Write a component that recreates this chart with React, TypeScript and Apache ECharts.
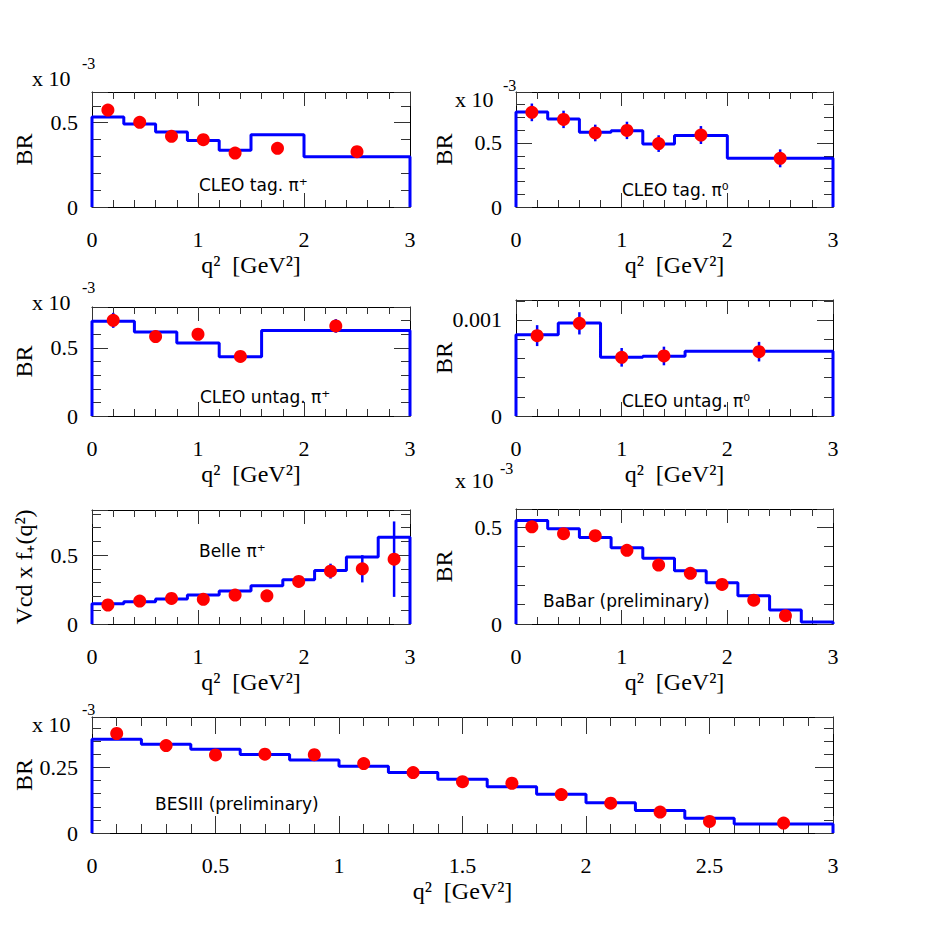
import React, { useEffect, useRef } from "react";
import * as echarts from "echarts";

// ---------- data ----------
// CLEO tagged pi+
const tagPipEdges = [0, 0.3, 0.6, 0.9, 1.2, 1.5, 2, 3];
const tagPipHist = [0.534, 0.492, 0.445, 0.395, 0.336, 0.429, 0.298];
const tagPipX = [0.15, 0.45, 0.75, 1.05, 1.35, 1.75, 2.5];
const tagPipY = [0.575, 0.502, 0.419, 0.399, 0.32, 0.348, 0.328];

// CLEO tagged pi0
const tagPi0Edges = [0, 0.3, 0.6, 0.9, 1.2, 1.5, 2, 3];
const tagPi0Hist = [0.742, 0.688, 0.583, 0.596, 0.492, 0.559, 0.38];
const tagPi0X = [0.15, 0.45, 0.75, 1.05, 1.35, 1.75, 2.5];
const tagPi0Y = [0.739, 0.684, 0.578, 0.598, 0.495, 0.562, 0.38];
const tagPi0Err = [0.069, 0.068, 0.065, 0.068, 0.065, 0.07, 0.07];

// CLEO untagged pi+
const untagPipEdges = [0, 0.4, 0.8, 1.2, 1.6, 3];
const untagPipHist = [0.695, 0.617, 0.536, 0.434, 0.627];
const untagPipX = [0.2, 0.6, 1.0, 1.4, 2.3];
const untagPipY = [0.702, 0.583, 0.6, 0.437, 0.661];
const untagPipErr = [0.055, 0.04, 0.04, 0.04, 0.05];

// CLEO untagged pi0 (absolute BR)
const untagPi0Edges = [0, 0.4, 0.8, 1.2, 1.6, 3];
const untagPi0Hist = [0.000847, 0.000969, 0.000611, 0.000622, 0.000674];
const untagPi0X = [0.2, 0.6, 1.0, 1.4, 2.3];
const untagPi0Y = [0.000837, 0.000965, 0.000611, 0.000625, 0.00067];
const untagPi0Err = [0.000109, 0.000116, 0.000097, 0.000097, 0.000102];

// Belle pi+
const belleEdges = [0, 0.3, 0.6, 0.9, 1.2, 1.5, 1.8, 2.1, 2.4, 2.7, 3];
const belleHist = [0.147, 0.162, 0.181, 0.21, 0.239, 0.278, 0.321, 0.389, 0.486, 0.63];
const belleX = [0.15, 0.45, 0.75, 1.05, 1.35, 1.65, 1.95, 2.25, 2.55, 2.85];
const belleY = [0.138, 0.167, 0.186, 0.179, 0.21, 0.205, 0.309, 0.384, 0.401, 0.471];
const belleErr = [0.02, 0.02, 0.02, 0.02, 0.02, 0.02, 0.03, 0.054, 0.099, 0.274];

// BaBar (preliminary)
const babarEdges = [0, 0.3, 0.6, 0.9, 1.2, 1.5, 1.8, 2.1, 2.4, 2.7, 3];
const babarHist = [0.536, 0.493, 0.447, 0.395, 0.34, 0.276, 0.214, 0.146, 0.072, 0.01];
const babarX = [0.15, 0.45, 0.75, 1.05, 1.35, 1.65, 1.95, 2.25, 2.55];
const babarY = [0.503, 0.467, 0.457, 0.381, 0.305, 0.262, 0.205, 0.123, 0.043];

// BESIII (preliminary)
const besEdges = [0, 0.2, 0.4, 0.6, 0.8, 1.0, 1.2, 1.4, 1.6, 1.8, 2.0, 2.2, 2.4, 2.6, 3.0];
const besHist = [0.358, 0.339, 0.32, 0.3, 0.279, 0.255, 0.231, 0.205, 0.177, 0.148, 0.116, 0.086, 0.056, 0.034];
const besX = [0.1, 0.3, 0.5, 0.7, 0.9, 1.1, 1.3, 1.5, 1.7, 1.9, 2.1, 2.3, 2.5, 2.8];
const besY = [0.38, 0.334, 0.298, 0.301, 0.299, 0.265, 0.231, 0.196, 0.19, 0.147, 0.114, 0.08, 0.044, 0.038];

// ---------- style ----------
const SERIF = "'Liberation Serif', 'Times New Roman', serif";
const SANS = "'DejaVu Sans', 'Noto Sans', sans-serif";
const BLUE = "#0000ff";
const RED = "#ff0000";
const TICK = "#333";
const X_TITLE = "q\u00B2  [GeV\u00B2]";

type Panel = {
  grid: { left: number; top: number; width: number; height: number };
  xInterval: number;
  yMax: number;
  yInterval: number;
  yTitle: string;
  yNameGap: number;
  xTick: [number, number];
  yTick: [number, number];
  edges: number[];
  hist: number[];
  px: number[];
  py: number[];
  err?: number[];
};

const panels: Panel[] = [
  { grid: { left: 92, top: 92, width: 318, height: 115 }, xInterval: 1, yMax: 0.682, yInterval: 0.5, yTitle: "BR", yNameGap: 56, xTick: [14, 7], yTick: [16, 9], edges: tagPipEdges, hist: tagPipHist, px: tagPipX, py: tagPipY },
  { grid: { left: 516, top: 92, width: 317, height: 115 }, xInterval: 1, yMax: 0.898, yInterval: 0.5, yTitle: "BR", yNameGap: 60, xTick: [14, 7], yTick: [16, 9], edges: tagPi0Edges, hist: tagPi0Hist, px: tagPi0X, py: tagPi0Y, err: tagPi0Err },
  { grid: { left: 92, top: 307, width: 318, height: 109 }, xInterval: 1, yMax: 0.8, yInterval: 0.5, yTitle: "BR", yNameGap: 56, xTick: [14, 7], yTick: [16, 9], edges: untagPipEdges, hist: untagPipHist, px: untagPipX, py: untagPipY, err: untagPipErr },
  { grid: { left: 516, top: 300, width: 317, height: 116 }, xInterval: 1, yMax: 0.001208, yInterval: 0.001, yTitle: "BR", yNameGap: 60, xTick: [14, 7], yTick: [16, 9], edges: untagPi0Edges, hist: untagPi0Hist, px: untagPi0X, py: untagPi0Y, err: untagPi0Err },
  { grid: { left: 92, top: 510, width: 318, height: 114 }, xInterval: 1, yMax: 0.828, yInterval: 0.5, yTitle: "Vcd x f\u208A(q\u00B2)", yNameGap: 56, xTick: [14, 7], yTick: [16, 9], edges: belleEdges, hist: belleHist, px: belleX, py: belleY, err: belleErr },
  { grid: { left: 516, top: 509, width: 317, height: 115 }, xInterval: 1, yMax: 0.595, yInterval: 0.5, yTitle: "BR", yNameGap: 60, xTick: [14, 7], yTick: [16, 9], edges: babarEdges, hist: babarHist, px: babarX, py: babarY },
  { grid: { left: 92, top: 717, width: 741, height: 116 }, xInterval: 0.5, yMax: 0.443, yInterval: 0.25, yTitle: "BR", yNameGap: 56, xTick: [17, 9], yTick: [18, 9], edges: besEdges, hist: besHist, px: besX, py: besY },
];

// text annotations: [text, left x, center y]
const annotations: [string, number, number][] = [
  ["CLEO tag. \u03C0\u207A", 199, 185],
  ["CLEO tag. \u03C0\u2070", 622, 190],
  ["CLEO untag. \u03C0\u207A", 200, 397],
  ["CLEO untag. \u03C0\u2070", 622, 401],
  ["Belle \u03C0\u207A", 199, 551],
  ["BaBar (preliminary)", 543, 601],
  ["BESIII (preliminary)", 155, 804],
];

// multiplier labels: "x 10" at (x1, y1), "-3" at (x2, y2)
const multipliers: [number, number, number, number][] = [
  [32, 78, 82, 63],
  [455, 99, 503, 85],
  [32, 302, 82, 287],
  [455, 480, 500, 468],
  [32, 724, 82, 709],
];

function stepLine(edges: number[], vals: number[]) {
  const d: number[][] = [[edges[0], 0]];
  vals.forEach((v, i) => {
    d.push([edges[i], v]);
    d.push([edges[i + 1], v]);
  });
  d.push([edges[edges.length - 1], 0]);
  return d;
}

function fmtY(interval: number) {
  return (v: number) => {
    const r = v / interval;
    if (Math.abs(r - Math.round(r)) > 1e-6) return "";
    return String(+v.toFixed(6));
  };
}

function buildOption() {
  const grid: any[] = [];
  const xAxis: any[] = [];
  const yAxis: any[] = [];
  const series: any[] = [];
  panels.forEach((p, gi) => {
    grid.push({ ...p.grid, containLabel: false, outerBoundsMode: "none" });
    const xBase = (main: boolean) => ({
      type: "value",
      gridIndex: gi,
      position: main ? "bottom" : "top",
      min: 0,
      max: 3,
      interval: p.xInterval,
      axisLine: { show: true, onZero: false, lineStyle: { color: "#000", width: 1 } },
      axisTick: { show: true, inside: true, length: p.xTick[0], lineStyle: { color: TICK, width: 1 } },
      minorTick: { show: true, splitNumber: 5, length: p.xTick[1], lineStyle: { color: TICK, width: 1 } },
      splitLine: { show: false },
      minorSplitLine: { show: false },
      axisLabel: main
        ? { show: true, margin: 21, fontFamily: SERIF, fontSize: 22, color: "#000" }
        : { show: false },
      name: main ? X_TITLE : "",
      nameLocation: "middle",
      nameGap: 46,
      nameMoveOverlap: false,
      nameTextStyle: { fontFamily: SERIF, fontSize: 24, color: "#000" },
    });
    const yBase = (main: boolean) => ({
      type: "value",
      gridIndex: gi,
      position: main ? "left" : "right",
      min: 0,
      max: p.yMax,
      interval: p.yInterval,
      axisLine: { show: true, onZero: false, lineStyle: { color: "#000", width: 1 } },
      axisTick: { show: true, inside: true, length: p.yTick[0], lineStyle: { color: TICK, width: 1 } },
      minorTick: { show: true, splitNumber: 5, length: p.yTick[1], lineStyle: { color: TICK, width: 1 } },
      splitLine: { show: false },
      minorSplitLine: { show: false },
      axisLabel: main
        ? { show: true, margin: 14, fontFamily: SERIF, fontSize: 22, color: "#000", formatter: fmtY(p.yInterval) }
        : { show: false },
      name: main ? p.yTitle : "",
      nameLocation: "middle",
      nameGap: p.yNameGap,
      nameMoveOverlap: false,
      nameTextStyle: { fontFamily: SERIF, fontSize: 24, color: "#000" },
    });
    const xi = xAxis.length;
    xAxis.push(xBase(true), xBase(false));
    const yi = yAxis.length;
    yAxis.push(yBase(true), yBase(false));

    series.push({
      type: "line",
      xAxisIndex: xi,
      yAxisIndex: yi,
      data: stepLine(p.edges, p.hist),
      symbol: "none",
      clip: false,
      lineStyle: { color: BLUE, width: 3, opacity: 1 },
      z: 2,
    });
    if (p.err) {
      const errData = p.px.map((x, i) => [x, p.py[i], p.err![i]]);
      series.push({
        type: "custom",
        xAxisIndex: xi,
        yAxisIndex: yi,
        data: errData,
        encode: { x: 0, y: 1 },
        z: 3,
        renderItem: (_params: any, api: any) => {
          const x = api.value(0);
          const y = api.value(1);
          const e = api.value(2);
          const a = api.coord([x, y + e]);
          const b = api.coord([x, y - e]);
          return {
            type: "line",
            shape: { x1: a[0], y1: a[1], x2: b[0], y2: b[1] },
            style: { stroke: BLUE, lineWidth: 2.5 },
          };
        },
      });
    }
    series.push({
      type: "scatter",
      xAxisIndex: xi,
      yAxisIndex: yi,
      data: p.px.map((x, i) => [x, p.py[i]]),
      symbol: "circle",
      symbolSize: 13,
      itemStyle: { color: RED, opacity: 1 },
      clip: false,
      z: 4,
    });
  });

  const graphic: any[] = [];
  annotations.forEach(([t, x, y]) => {
    graphic.push({
      type: "text",
      x,
      y,
      style: { text: t, font: `17px ${SANS}`, fill: "#000", textAlign: "left", textVerticalAlign: "middle" },
      z: 10,
    });
  });
  multipliers.forEach(([x1, y1, x2, y2]) => {
    graphic.push({
      type: "text",
      x: x1,
      y: y1,
      style: { text: "x 10", font: `22px ${SERIF}`, fill: "#000", textAlign: "left", textVerticalAlign: "middle" },
      z: 10,
    });
    graphic.push({
      type: "text",
      x: x2,
      y: y2,
      style: { text: "-3", font: `16px ${SERIF}`, fill: "#000", textAlign: "left", textVerticalAlign: "middle" },
      z: 10,
    });
  });

  return {
    animation: false,
    backgroundColor: "#ffffff",
    grid,
    xAxis,
    yAxis,
    series,
    graphic,
  };
}

export default function App() {
  const ref = useRef<HTMLDivElement>(null);
  useEffect(() => {
    if (!ref.current) return;
    const chart = echarts.init(ref.current, undefined, { renderer: "svg" });
    chart.setOption(buildOption() as any);
    return () => {
      chart.dispose();
    };
  }, []);
  return (
    <div
      ref={ref}
      style={{ position: "absolute", left: 0, top: 0, width: 926, height: 926, background: "#fff" }}
    />
  );
}
